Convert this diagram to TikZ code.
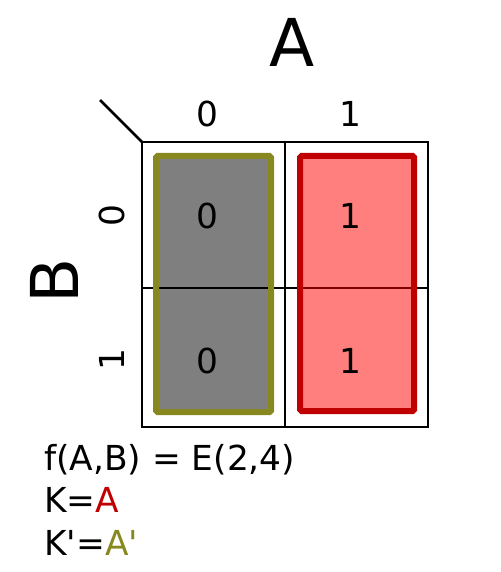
\documentclass[tikz,border=0pt]{standalone}
\usepackage{fontspec}
\setmainfont{DejaVu Sans}
\definecolor{kolive}{RGB}{136,136,32}
\definecolor{kred}{RGB}{192,0,0}
\tikzset{
    cell/.style={inner sep=0pt, font=\fontsize{34.4}{40}\selectfont},
    varname/.style={inner sep=0pt, font=\fontsize{66}{72}\selectfont},
    group/.style={line width=6pt, rounded corners=1.5pt, fill opacity=0.5, draw opacity=1},
}
\begin{document}
\begin{tikzpicture}[x=1pt,y=-1pt]
    \useasboundingbox (0,0) rectangle (500,572);

    % Grid
    \draw[line width=2.5pt] (142,142) rectangle (428,427);
    \draw[line width=2.5pt] (285,142) -- (285,427);
    \draw[line width=2.5pt] (142,288) -- (428,288);
    \draw[line width=2.5pt] (100,100) -- (142,142); % Corner

    % Groups
    \draw[group, draw=kolive, fill=black] (156,156) rectangle (271,412);
    \draw[group, draw=kred, fill=red] (300,156) rectangle (414,411);

    % Variable names
    \node[varname] (nameA) at (292,42) {A};
    \node[varname, rotate=90] (nameB) at (54,281) {B};

    % Column and row values
    \node[cell] (colzero) at (207,114) {0};
    \node[cell] (colone) at (350,114) {1};
    \node[cell, rotate=90] (rowzero) at (112,216) {0};
    \node[cell, rotate=90] (rowone) at (112,360) {1};

    % Cells
    \node[cell] (cellzz) at (207,216) {0};
    \node[cell] (cellzo) at (207,361) {0};
    \node[cell] (celloz) at (350,216) {1};
    \node[cell] (celloo) at (350,361) {1};

    % Expressions
    \node[cell, anchor=base west] (func) at (44,470) {f(A,B) = E(2,4)};
    \node[cell, anchor=base west] (kone) at (44,512) {K=\textcolor{kred}{A}};
    \node[cell, anchor=base west] (ktwo) at (44,555) {K\textquotesingle=\textcolor{kolive}{A\textquotesingle}};

\end{tikzpicture}
\end{document}
